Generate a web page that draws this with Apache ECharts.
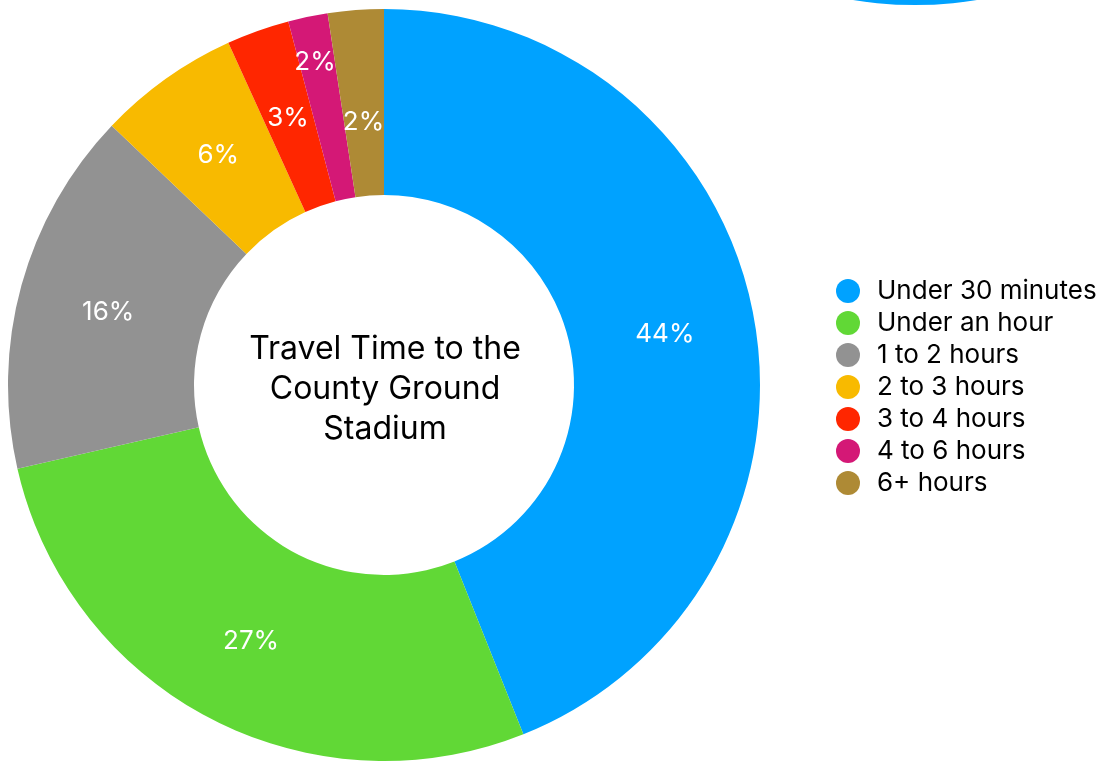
<!DOCTYPE html>
<html>
<head>
<meta charset="utf-8">
<script src="https://cdn.jsdelivr.net/npm/echarts@6/dist/echarts.min.js"></script>
<style>
  html, body { margin: 0; padding: 0; background: #fff; }
  #chart { width: 1106px; height: 761px; }
</style>
</head>
<body>
<div id="chart"></div>
<script>
// Travel time bands and their shares of respondents
const categories = ['Under 30 minutes', 'Under an hour', '1 to 2 hours', '2 to 3 hours', '3 to 4 hours', '4 to 6 hours', '6+ hours'];
const shares = [440, 275, 157, 61, 27, 17, 24];
const colors = ['#00A2FF', '#61D836', '#929292', '#F8BA00', '#FF2600', '#D41876', '#AE8A35'];
const centerTitle = 'Travel Time to the\nCounty Ground\nStadium';

const FONT = 'Inter, "Noto Sans", sans-serif';

const chart = echarts.init(document.getElementById('chart'), null, { renderer: 'canvas' });

chart.setOption({
  animation: false,
  color: colors,
  legend: {
    orient: 'vertical',
    left: 831,
    top: 273,
    icon: 'circle',
    itemWidth: 24,
    itemHeight: 24,
    itemGap: 6,
    selectedMode: false,
    data: categories,
    textStyle: {
      fontFamily: FONT,
      fontSize: 26,
      color: '#000',
      padding: [0, 0, 0, 12]
    }
  },
  graphic: [
    {
      type: 'circle',
      z: 0,
      shape: { cx: 915, cy: -382, r: 387 },
      style: { fill: '#00A2FF' }
    },
    {
      type: 'text',
      z: 10,
      x: 385,
      y: 389,
      style: {
        text: centerTitle,
        fontFamily: FONT,
        fontSize: 32,
        lineHeight: 40,
        fill: '#000',
        align: 'center',
        verticalAlign: 'middle'
      }
    }
  ],
  series: [
    {
      type: 'pie',
      center: [384, 385],
      radius: [190, 376],
      startAngle: 90,
      clockwise: true,
      percentPrecision: 0,
      avoidLabelOverlap: false,
      itemStyle: { borderWidth: 0 },
      label: {
        show: true,
        position: 'inside',
        formatter: '{d}%',
        color: '#fff',
        fontFamily: FONT,
        fontSize: 26,
        textBorderWidth: 0
      },
      labelLine: { show: false },
      emphasis: { disabled: true },
      labelLayout: function (params) {
        // nudge the two thin slices' labels apart
        if (params.dataIndex === 5) return { dx: -11, dy: -43 };
        if (params.dataIndex === 6) return { dx: 1, dy: 22 };
        return { dy: 3 };
      },
      data: categories.map((name, i) => ({ name: name, value: shares[i] }))
    }
  ]
});
</script>
</body>
</html>
